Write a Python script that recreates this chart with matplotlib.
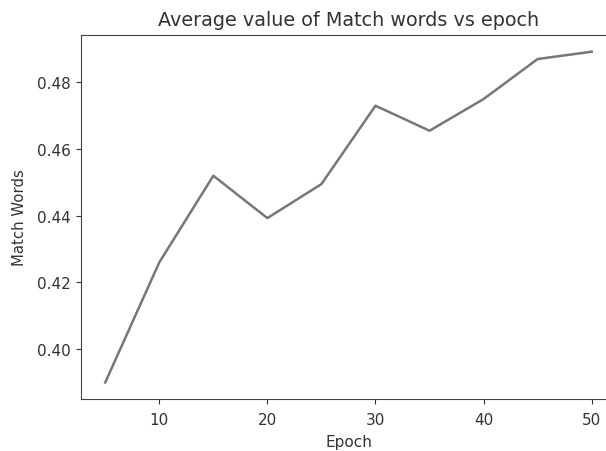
import matplotlib
matplotlib.use("Agg")
import matplotlib.pyplot as plt

epochs = [5, 10, 15, 20, 25, 30, 35, 40, 45, 50]
match_words = [0.390, 0.426, 0.452, 0.4393, 0.4495, 0.473, 0.4655, 0.475, 0.487, 0.4892]

plt.rcParams['text.color'] = '#333333'
plt.rcParams['axes.labelcolor'] = '#333333'
plt.rcParams['xtick.color'] = '#333333'
plt.rcParams['ytick.color'] = '#333333'
plt.rcParams['axes.edgecolor'] = '#444444'

fig = plt.figure(figsize=(6.06, 4.52), dpi=100)
# axes runs past the right edge of the saved image
ax = fig.add_axes([0.1335, 0.115, 0.883, 0.805])
ax.plot(epochs, match_words, color='#777777', linewidth=1.8)
ax.set_xticks([10, 20, 30, 40, 50])
ax.set_yticks([0.40, 0.42, 0.44, 0.46, 0.48])
ax.set_xlabel('Epoch', fontsize=11, labelpad=5)
ax.set_ylabel('Match Words', fontsize=10.7, labelpad=7.5)
ax.set_title('Average value of Match words vs epoch', fontsize=13.8, pad=7)
ax.tick_params(labelsize=11)
ax.tick_params(axis='x', pad=6)

plt.savefig('out.png', dpi=100)
